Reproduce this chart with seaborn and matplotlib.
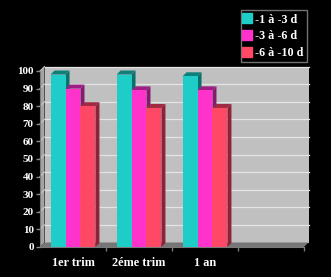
import matplotlib
matplotlib.use("Agg")
import matplotlib.pyplot as plt
import matplotlib.colors as mcolors
from matplotlib.patches import Polygon
from matplotlib.lines import Line2D
from matplotlib.transforms import IdentityTransform
import seaborn as sns
import pandas as pd

categories = ["1er trim", "2éme trim", "1 an"]
series = ["-1 à -3 d", "-3 à -6 d", "-6 à -10 d"]
s1 = [98, 98, 97]
s2 = [90, 89, 89]
s3 = [80, 79, 79]
yticks = list(range(0, 101, 10))

colors = ["#1ECCC8", "#FF33CC", "#FF4766"]
side_colors = ["#0B6F6C", "#8A1872", "#8E2238"]
top_colors = ["#0E7F7B", "#9C2084", "#A02A42"]

df = pd.DataFrame({
    "cat": categories * 3,
    "series": [s for s in series for _ in categories],
    "value": s1 + s2 + s3,
})

plt.rcParams["font.family"] = ["Liberation Serif", "DejaVu Serif"]
plt.rcParams["font.weight"] = "bold"

W, H = 331, 277
fig = plt.figure(figsize=(W / 100, H / 100), dpi=100, facecolor="black")
ax = fig.add_axes([40 / W, 30 / H, 264 / W, 176 / H])
ax.set_facecolor("none")

sns.barplot(data=df, x="cat", y="value", hue="series", order=categories,
            hue_order=series, palette=colors, width=0.68, saturation=1,
            legend=False, ax=ax, edgecolor="none", linewidth=0, zorder=3)
bars = [p for p in ax.patches if p.get_height() > 0]
ax.set_xlim(-0.5, 3.5)
ax.set_ylim(0, 100)

D = 4.5   # wall depth (px)
d = 4.0   # bar depth (px)
ident = IdentityTransform()


def disp(x, y, off=0.0):
    px, py = ax.transData.transform((x, y))
    return (px + off, py + off)


def poly(pts, color, z):
    ax.add_patch(Polygon(pts, closed=True, facecolor=color, edgecolor="none",
                         transform=ident, clip_on=False, zorder=z))


x0, x1 = -0.5, 3.5
# back wall
poly([disp(x0, 0, D), disp(x1, 0, D), disp(x1, 100, D), disp(x0, 100, D)], "#C0C0C0", 0.5)
# side wall
poly([disp(x0, 0), disp(x0, 0, D), disp(x0, 100, D), disp(x0, 100)], "#A4A4A4", 0.6)
# floor
poly([disp(x0, 0), disp(x1, 0), disp(x1, 0, D), disp(x0, 0, D)], "#767676", 0.7)
# gridlines
for v in yticks[1:]:
    a, b = disp(x0, v, D), disp(x1, v, D)
    ax.add_line(Line2D([a[0], b[0]], [a[1], b[1]], color="#E4E4E4", lw=0.9,
                       transform=ident, clip_on=False, zorder=0.8))
    c = disp(x0, v)
    ax.add_line(Line2D([c[0], a[0]], [c[1], a[1]], color="#C8C8C8", lw=0.8,
                       transform=ident, clip_on=False, zorder=0.8))

# 3D bar faces
bars.sort(key=lambda p: p.get_x())
ucolors = [c.upper() for c in colors]
for i, p in enumerate(bars):
    hex_c = mcolors.to_hex(p.get_facecolor()).upper()
    k = ucolors.index(hex_c) if hex_c in ucolors else 0
    bx0, bx1, h = p.get_x(), p.get_x() + p.get_width(), p.get_height()
    z = 3 + i * 0.01
    p.set_zorder(z)
    a0, a1 = disp(bx1, 0), disp(bx1, h)
    poly([a0, a1, (a1[0] + d, a1[1] + d), (a0[0] + d, a0[1] + d)], side_colors[k], z - 0.005)
    t0 = disp(bx0, h)
    poly([t0, a1, (a1[0] + d, a1[1] + d), (t0[0] + d, t0[1] + d)], top_colors[k], z - 0.004)

# axes styling
for s in ["top", "right"]:
    ax.spines[s].set_visible(False)
ax.spines["left"].set_color("#7A7A7A")
ax.spines["bottom"].set_color("#7A7A7A")
ax.spines["left"].set_zorder(1)
ax.spines["bottom"].set_zorder(1)

ax.set_yticks(yticks)
ax.set_yticklabels([str(v) for v in yticks])
ax.tick_params(axis="y", colors="#8A8A8A", labelcolor="white", length=3,
               width=1, pad=1.5, labelsize=8)
ax.set_xticks(range(len(categories)))
ax.set_xticklabels(categories)
ax.set_xticks([0.5, 1.5, 2.5, 3.5], minor=True)
ax.tick_params(axis="x", which="major", length=0, pad=7, labelcolor="white", labelsize=8.8)
ax.tick_params(axis="x", which="minor", length=3, width=1, colors="#7A7A7A")
for lab in ax.get_xticklabels() + ax.get_yticklabels():
    lab.set_fontweight("bold")
ax.set_xlabel("")
ax.set_ylabel("")

handles = [Line2D([], [], marker="s", linestyle="none", markersize=6.5,
                  markerfacecolor=c, markeredgecolor=c) for c in colors]
leg = fig.legend(handles, series, loc="upper right",
                 bbox_to_anchor=(307 / W, 1 - 10 / H), bbox_transform=fig.transFigure,
                 frameon=True, fancybox=False, facecolor="black", edgecolor="#909090",
                 prop={"family": "Liberation Serif", "weight": "bold", "size": 8.7},
                 labelcolor="white", handlelength=0.55, handletextpad=0.35,
                 labelspacing=0.38, borderpad=0.3, borderaxespad=0)
leg.get_frame().set_linewidth(1)

fig.savefig("out.png", dpi=100, facecolor="black")
